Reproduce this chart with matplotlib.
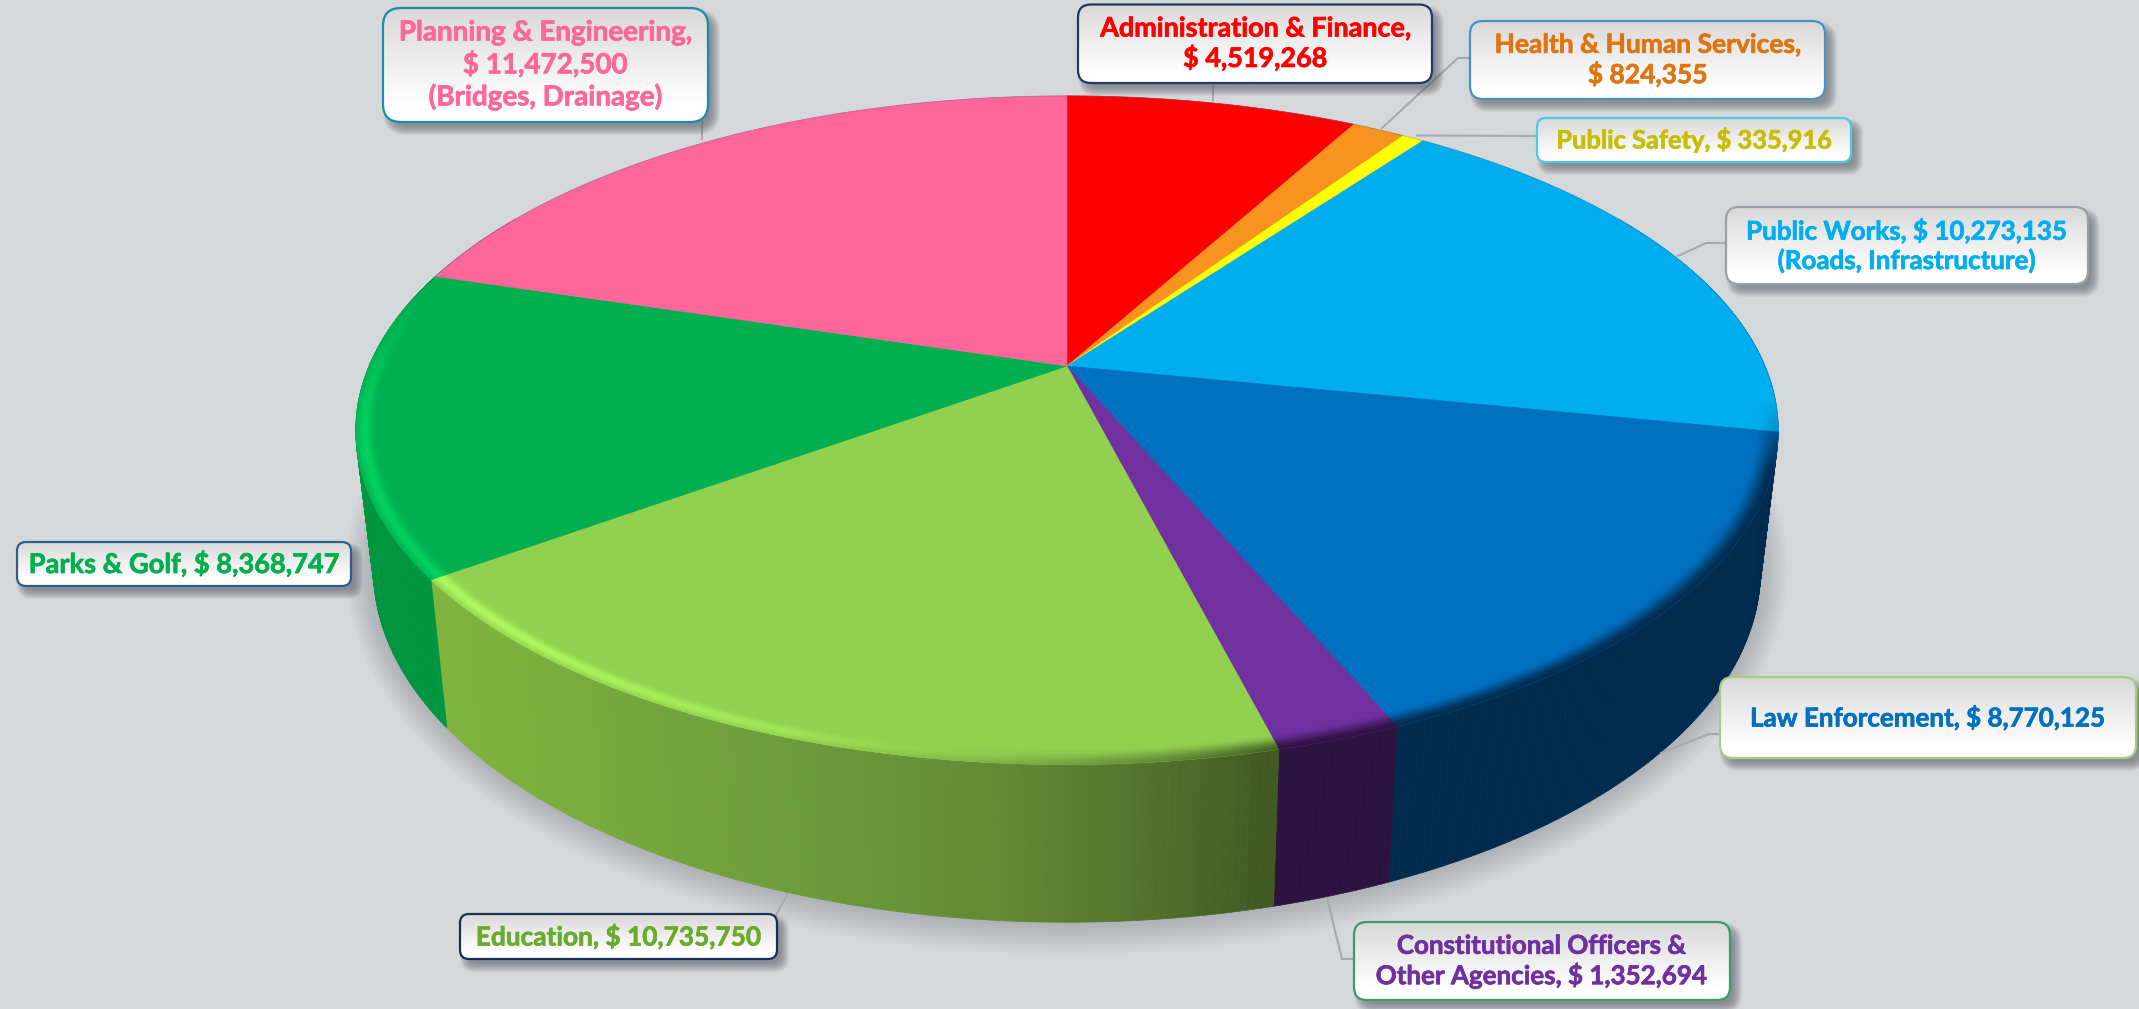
import numpy as np
import matplotlib
matplotlib.use("Agg")
import matplotlib.pyplot as plt
from matplotlib.patches import Polygon, FancyBboxPatch
from matplotlib.collections import PolyCollection
from matplotlib.colors import to_rgb, LinearSegmentedColormap
import matplotlib.patheffects as pe

categories = ["Administration & Finance", "Health & Human Services", "Public Safety",
              "Public Works", "Law Enforcement", "Constitutional Officers & Other Agencies",
              "Education", "Parks & Golf", "Planning & Engineering"]
values = [4519268, 824355, 335916, 10273135, 8770125, 1352694, 10735750, 8368747, 11472500]
top_colors = ["#FF0000", "#F7931E", "#FFFF00", "#00AEEF", "#0070C0", "#7030A0", "#92D050", "#00B050", "#FF6699"]
side_colors = ["#8A0000", "#8A5010", "#8A8A00", "#0A6F92", "#002B4E", "#2E1240", "#6C9A3A", "#00963F", "#A04060"]
label_texts = ["Administration & Finance,\n$ 4,519,268",
               "Health & Human Services,\n$ 824,355",
               "Public Safety, $ 335,916",
               "Public Works, $ 10,273,135\n(Roads, Infrastructure)",
               "Law Enforcement, $ 8,770,125",
               "Constitutional Officers &\nOther Agencies, $ 1,352,694",
               "Education, $ 10,735,750",
               "Parks & Golf, $ 8,368,747",
               "Planning & Engineering,\n$ 11,472,500\n(Bridges, Drainage)"]
text_colors = ["#FF0000", "#E0740E", "#C8BE00", "#00AEEF", "#0070C0", "#7030A0", "#6AAB2E", "#00B050", "#FF6699"]
text_sizes = [19.4, 19.0, 18.3, 18.7, 18.7, 18.7, 18.9, 19.6, 20.0]
border_colors = ["#1F3864", "#4A90C0", "#50C8E8", "#9AA0A8", "#A5CE7A", "#3E9A6A", "#1B2E55", "#2F5F85", "#1C8CA6"]
boxes = [(1078, 4.5, 1432, 83), (1470, 21, 1825, 99), (1537, 118, 1851, 162), (1726, 207, 2088, 284),
         (1720, 677, 2136, 758), (1354, 922, 1730, 1000), (460, 914, 777, 959), (17, 542, 351, 586), (383, 8, 708, 122)]
leaders = [[(1213, 83), (1213, 100)],
           [(1470, 58), (1458, 58), (1382, 128)],
           [(1537, 136), (1417, 135.5)],
           [(1726, 243), (1706, 243), (1678, 256)],
           [(1720, 734), (1709, 734), (1661, 753)],
           [(1354, 959), (1342, 959), (1327, 898)],
           [(776, 915), (787, 895)],
           [],
           [(702, 122), (702, 139)]]
BG = "#D5D8DB"
CX, CY, A, B, K = 1067.0, 366.0, 698.0, 322.0, 0.192


def top(theta, r=1.0):
    t = np.radians(theta)
    u, v = r * np.sin(t), r * np.cos(t)
    w = 1 + K * v
    return CX + A * u / w, CY - B * v / w


def bottom(theta, r=1.0):
    x, y = top(theta, r)
    return CX + 0.975 * (x - CX), y + (137 + 0.052 * (y - CY))


fig = plt.figure(figsize=(21.39, 10.09), dpi=100, facecolor=BG)
ax = fig.add_axes([0, 0, 1, 1])
ax.set_facecolor(BG)
ax.axis("off")

edges = np.concatenate([[0], np.cumsum(values)]) / np.sum(values) * 360.0

# soft shadow under the pie
ring = np.linspace(0, 360, 361)
bx, by = bottom(ring)
for f in np.linspace(1, 0, 14):
    sx = CX + (bx - CX) * (1 + 0.04 * f)
    sy = 583 + (by - 583) * (1 + 0.095 * f)
    ax.add_patch(Polygon(np.c_[sx, sy], closed=True, fc="#6A7076", ec="none", alpha=0.027, zorder=1))


def edu_side(x):
    xs = [445, 800, 1000, 1150, 1270]
    rgb = [[128, 180, 62], [108, 155, 58], [98, 138, 52], [82, 114, 44], [64, 90, 34]]
    return [np.interp(x, xs, [c[i] for c in rgb]) / 255 for i in range(3)]


# side wall, back to front
polys, cols = [], []
for i in range(len(values)):
    a0, a1 = edges[i], edges[i + 1]
    lo, hi = max(a0, 60), min(a1, 300)
    if hi <= lo:
        continue
    th = np.arange(lo, hi + 0.5, 0.5)
    th[-1] = hi
    for s, e in zip(th[:-1], th[1:]):
        x0, y0 = top(s)
        x1, y1 = top(e)
        x2, y2 = bottom(e)
        x3, y3 = bottom(s)
        polys.append([(x0, y0), (x1, y1), (x2, y2), (x3, y3)])
        cols.append(edu_side((x0 + x1) / 2) if categories[i] == "Education" else to_rgb(side_colors[i]))
ax.add_collection(PolyCollection(polys, facecolors=cols, edgecolors=cols, linewidths=0.5, zorder=2))

# top face wedges
for i in range(len(values)):
    th = np.linspace(edges[i], edges[i + 1], 240)
    x, y = top(th)
    ax.add_patch(Polygon(np.c_[np.r_[CX, x], np.r_[CY, y]], closed=True, fc=top_colors[i],
                         ec=top_colors[i], lw=0.4, zorder=3))

# bevel on the front rim
polys, cols = [], []
rad = np.linspace(0.968, 1.0, 11)
for i in range(len(values)):
    lo, hi = max(edges[i], 96), min(edges[i + 1], 290)
    if hi <= lo:
        continue
    c_top = np.array(to_rgb(top_colors[i]))
    th = np.arange(lo, hi + 0.5, 0.5)
    th[-1] = hi
    for s, e in zip(th[:-1], th[1:]):
        m = (s + e) / 2
        bright = np.clip((m - 172) / 50, 0, 1) * np.clip((283 - m) / 24, 0, 1)
        dark = np.clip((200 - m) / 36, 0, 1) * np.clip((m - 96) / 12, 0, 1)
        xm, _ = top(m)
        side = np.array(edu_side(xm) if categories[i] == "Education" else to_rgb(side_colors[i]))
        for j, (r0, r1) in enumerate(zip(rad[:-1], rad[1:])):
            t = (j + 0.5) / (len(rad) - 1)
            bump = np.exp(-((t - 0.62) / 0.3) ** 2)
            c = c_top + (np.clip(c_top * 1.2, 0, 1) - c_top) * bright * bump
            smooth = t * t * (3 - 2 * t)
            c = c + (side - c) * smooth * dark
            x0, y0 = top(s, r0)
            x1, y1 = top(e, r0)
            x2, y2 = top(e, r1)
            x3, y3 = top(s, r1)
            polys.append([(x0, y0), (x1, y1), (x2, y2), (x3, y3)])
            cols.append(tuple(c))
ax.add_collection(PolyCollection(polys, facecolors=cols, edgecolors=cols, linewidths=0.3, zorder=4))

# fine dark line on the back rim
th = np.linspace(-80, 100, 400)
x, y = top(th)
ax.plot(x, y, color="#3A5A70", lw=0.7, alpha=0.3, zorder=5)

# leader lines
for pts in leaders:
    if pts:
        p = np.array(pts)
        ax.plot(p[:, 0], p[:, 1], color="#A8A8A8", lw=1.5, zorder=6, solid_joinstyle="miter")

# gradient for the label boxes
cmap = LinearSegmentedColormap.from_list("box", [(0, "#D9D8D8"), (0.35, "#E9E9E9"), (0.85, "#FFFFFF"), (1, "#FFFFFF")])
grad = np.linspace(0, 1, 128).reshape(-1, 1)

for (x0, y0, x1, y1), bc, tc, txt, fs in zip(boxes, border_colors, text_colors, label_texts, text_sizes):
    w, h = x1 - x0, y1 - y0
    rs = 18 if h > 100 else (13 if h > 60 else 9)
    for g in np.linspace(6, -3, 10):
        ax.add_patch(FancyBboxPatch((x0 + 6 - g, y0 + 7 - g), w + 2 * g, h + 2 * g,
                                    boxstyle=f"round,pad=0,rounding_size={rs + max(g, 0)}",
                                    fc="#50565E", ec="none", alpha=0.075, zorder=7))
    patch = FancyBboxPatch((x0, y0), w, h, boxstyle=f"round,pad=0,rounding_size={rs}",
                           fc="white", ec="none", zorder=8)
    ax.add_patch(patch)
    im = ax.imshow(grad, extent=(x0, x1, y1, y0), cmap=cmap, aspect="auto", zorder=8.5, vmin=0, vmax=1)
    im.set_clip_path(patch)
    ax.add_patch(FancyBboxPatch((x0, y0), w, h, boxstyle=f"round,pad=0,rounding_size={rs}",
                                fc="none", ec=bc, lw=1.6, zorder=9))
    ax.text((x0 + x1) / 2, (y0 + y1) / 2, txt, color=tc, fontsize=fs, fontfamily="Lato", fontweight="bold",
            ha="center", va="center", ma="center", linespacing=1.2, zorder=10,
            path_effects=[pe.withStroke(linewidth=0.5, foreground=tc)])

ax.set_xlim(0, 2139)
ax.set_ylim(1009, 0)
fig.savefig("out.png", dpi=100, facecolor=BG)
